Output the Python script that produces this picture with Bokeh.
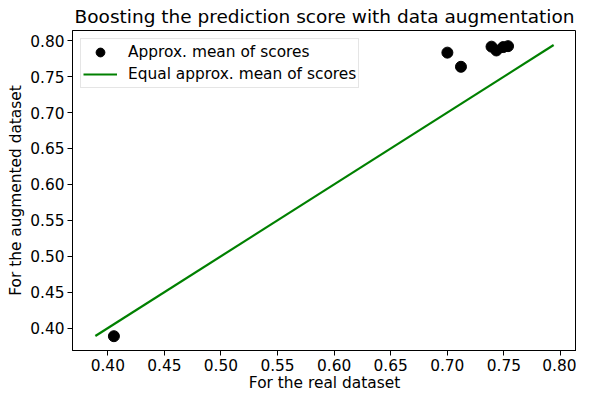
from bokeh.plotting import figure
from bokeh.models import Range1d, FixedTicker, NumeralTickFormatter, Legend, LegendItem
from bokeh.embed import file_html
from bokeh.resources import INLINE

# Data
real_scores = [0.4054, 0.7001, 0.7121, 0.7391, 0.7434, 0.7494, 0.7537]
augmented_scores = [0.3887, 0.7834, 0.7637, 0.7917, 0.7864, 0.7911, 0.7924]
equal_line = [0.389, 0.794]
tick_values = [0.40, 0.45, 0.50, 0.55, 0.60, 0.65, 0.70, 0.75, 0.80]

FONT = "DejaVu Sans"

p = figure(width=576, height=394, output_backend="svg", toolbar_location=None,
           x_range=Range1d(0.3688, 0.8142), y_range=Range1d(0.3688, 0.8142),
           title="Boosting the prediction score with data augmentation",
           min_border_left=72, min_border_right=0, min_border_top=0, min_border_bottom=0)

p.title.text_font = FONT
p.title.text_font_size = "18.5px"
p.title.text_font_style = "normal"
p.title.align = "center"
p.title.text_color = "black"
p.title.standoff = 7

p.xgrid.visible = False
p.ygrid.visible = False
p.outline_line_color = "black"
p.outline_line_width = 1
p.outline_line_alpha = 1

for ax in (p.xaxis[0], p.yaxis[0]):
    ax.ticker = FixedTicker(ticks=tick_values)
    ax.formatter = NumeralTickFormatter(format="0.00")
    ax.major_tick_in = 0
    ax.major_tick_out = 5
    ax.minor_tick_line_color = None
    ax.major_label_text_font = FONT
    ax.major_label_text_font_size = "15.4px"
    ax.major_label_text_color = "black"
    ax.axis_label_text_font = FONT
    ax.axis_label_text_font_size = "15.4px"
    ax.axis_label_text_font_style = "normal"
    ax.axis_label_text_color = "black"
    ax.axis_line_color = "black"
    ax.major_tick_line_color = "black"
    ax.major_label_standoff = 3
    ax.axis_label_standoff = 2

p.xaxis.axis_label_standoff = 0

p.xaxis.axis_label = "For the real dataset"
p.yaxis.axis_label = "For the augmented dataset"

r_line = p.line(equal_line, equal_line, line_color="#008000", line_width=2.2)
r_pts = p.scatter(real_scores, augmented_scores, marker="circle", size=11,
                  fill_color="black", line_color="black")

legend = Legend(items=[
    LegendItem(label="Approx. mean of scores", renderers=[r_pts]),
    LegendItem(label="Equal approx. mean of scores", renderers=[r_line]),
], location="top_left")
legend.margin = 8
legend.padding = 2
legend.spacing = 0
legend.glyph_height = 22
legend.glyph_width = 34
legend.label_height = 22
legend.label_standoff = 11
legend.label_text_font = FONT
legend.label_text_font_size = "15.4px"
legend.label_text_color = "black"
legend.border_line_color = "#cccccc"
legend.border_line_width = 1
legend.background_fill_alpha = 0.8
p.add_layout(legend)

open("out.html", "w").write(file_html(p, INLINE))
